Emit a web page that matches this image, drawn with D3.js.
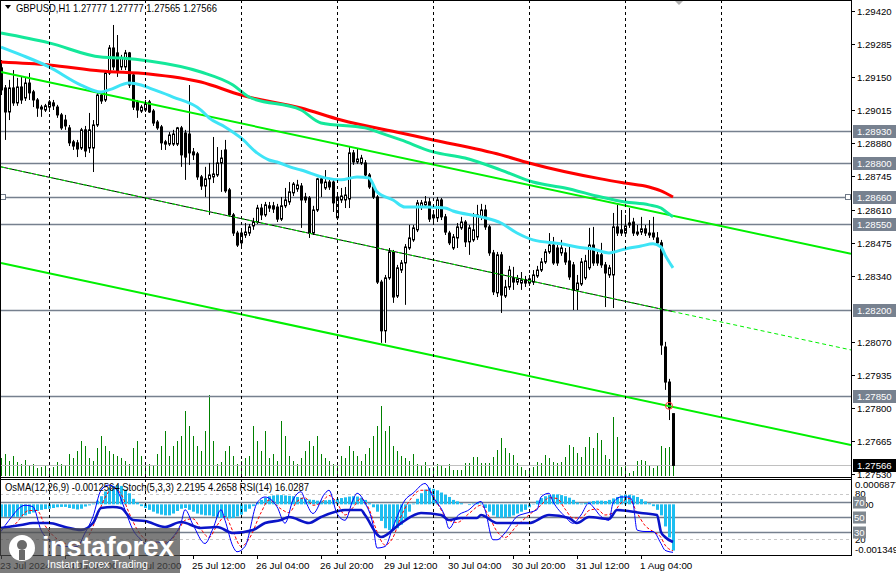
<!DOCTYPE html>
<html><head><meta charset="utf-8">
<script src="https://cdn.jsdelivr.net/npm/d3@7"></script>
<style>body{margin:0;background:#fff;overflow:hidden}svg{display:block}text{font-family:"Liberation Sans",Arial,sans-serif}</style>
</head><body><svg id="c" width="896" height="573"></svg>
<script>
// ---------- DATA ----------
const openP = [1.29188,1.29106,1.29008,1.29106,1.29045,1.29110,1.29065,1.29126,1.29090,1.29057,
1.29028,1.29016,1.29028,1.29045,1.29028,1.28996,1.28975,1.28943,1.28886,1.28882,
1.28861,1.28935,1.28861,1.28861,1.28955,1.29077,1.29057,1.29167,1.29269,1.29249,
1.29192,1.29192,1.29249,1.29159,1.29049,1.29012,1.29016,1.29049,1.29012,1.28967,
1.28947,1.28886,1.28877,1.28877,1.28877,1.28943,1.28922,1.28918,1.28845,1.28837,
1.28743,1.28706,1.28735,1.28743,1.28751,1.28800,1.28853,1.28690,1.28588,1.28514,
1.28474,1.28506,1.28514,1.28543,1.28559,1.28616,1.28588,1.28625,1.28625,1.28620,
1.28571,1.28625,1.28641,1.28678,1.28694,1.28706,1.28661,1.28657,1.28514,1.28608,
1.28735,1.28698,1.28722,1.28722,1.28576,1.28649,1.28649,1.28653,1.28841,1.28804,
1.28800,1.28800,1.28751,1.28702,1.28661,1.28314,1.28115,1.28331,1.28437,1.28257,
1.28363,1.28392,1.28453,1.28486,1.28527,1.28620,1.28629,1.28641,1.28576,1.28576,
1.28649,1.28580,1.28514,1.28453,1.28494,1.28535,1.28559,1.28478,1.28486,1.28498,
1.28580,1.28608,1.28539,1.28433,1.28270,1.28425,1.28257,1.28294,1.28331,1.28314,
1.28310,1.28323,1.28310,1.28314,1.28339,1.28363,1.28396,1.28437,1.28465,1.28453,
1.28433,1.28433,1.28400,1.28384,1.28282,1.28306,1.28331,1.28372,1.28465,1.28425,
1.28425,1.28384,1.28343,1.28343,1.28539,1.28527,1.28514,1.28547,1.28559,1.28510,
1.28518,1.28531,1.28514,1.28514,1.28494,1.28474,1.28049,1.27906,1.27777];
const highP = [1.29220,1.29118,1.29139,1.29179,1.29147,1.29151,1.29147,1.29167,1.29098,1.29065,
1.29037,1.29041,1.29057,1.29057,1.29037,1.29004,1.28996,1.28955,1.28894,1.28894,
1.28943,1.28951,1.29004,1.28975,1.29086,1.29090,1.29175,1.29281,1.29363,1.29322,
1.29241,1.29261,1.29253,1.29167,1.29057,1.29037,1.29057,1.29057,1.29020,1.28975,
1.28955,1.28894,1.28926,1.28935,1.28947,1.28951,1.28935,1.29118,1.28861,1.28845,
1.28751,1.28784,1.28800,1.28906,1.28865,1.28853,1.28894,1.28698,1.28596,1.28523,
1.28527,1.28555,1.28551,1.28576,1.28629,1.28633,1.28641,1.28641,1.28641,1.28633,
1.28661,1.28698,1.28722,1.28722,1.28731,1.28718,1.28678,1.28665,1.28625,1.28739,
1.28743,1.28771,1.28739,1.28731,1.28678,1.28698,1.28702,1.28865,1.28853,1.28857,
1.28833,1.28812,1.28759,1.28710,1.28669,1.28323,1.28343,1.28453,1.28445,1.28384,
1.28404,1.28469,1.28547,1.28547,1.28649,1.28649,1.28665,1.28657,1.28600,1.28661,
1.28657,1.28592,1.28523,1.28510,1.28555,1.28580,1.28567,1.28547,1.28596,1.28629,
1.28633,1.28629,1.28547,1.28445,1.28437,1.28437,1.28323,1.28380,1.28376,1.28343,
1.28355,1.28339,1.28343,1.28363,1.28380,1.28412,1.28449,1.28514,1.28498,1.28465,
1.28486,1.28453,1.28457,1.28396,1.28343,1.28412,1.28425,1.28535,1.28539,1.28437,
1.28474,1.28396,1.28384,1.28596,1.28629,1.28608,1.28588,1.28616,1.28576,1.28547,
1.28580,1.28547,1.28567,1.28580,1.28518,1.28486,1.28070,1.27919,1.27777];
const lowP = [1.29077,1.28894,1.28975,1.29033,1.29033,1.29041,1.29053,1.29057,1.29028,1.28988,
1.28988,1.29008,1.29008,1.29016,1.28984,1.28935,1.28935,1.28869,1.28853,1.28824,
1.28853,1.28824,1.28841,1.28763,1.28947,1.29041,1.29049,1.29159,1.29179,1.29151,
1.29179,1.29179,1.29106,1.29016,1.28984,1.29004,1.29008,1.29004,1.28951,1.28935,
1.28853,1.28853,1.28869,1.28869,1.28869,1.28784,1.28731,1.28792,1.28812,1.28731,
1.28690,1.28661,1.28588,1.28718,1.28743,1.28682,1.28678,1.28580,1.28502,1.28457,
1.28461,1.28494,1.28502,1.28527,1.28551,1.28567,1.28580,1.28600,1.28596,1.28559,
1.28563,1.28616,1.28629,1.28665,1.28682,1.28535,1.28637,1.28494,1.28506,1.28600,
1.28661,1.28690,1.28690,1.28600,1.28567,1.28637,1.28616,1.28616,1.28792,1.28796,
1.28792,1.28743,1.28694,1.28653,1.28306,1.28066,1.28066,1.28323,1.28229,1.28249,
1.28351,1.28221,1.28445,1.28478,1.28518,1.28608,1.28616,1.28559,1.28555,1.28559,
1.28567,1.28506,1.28465,1.28445,1.28453,1.28527,1.28457,1.28425,1.28478,1.28486,
1.28567,1.28527,1.28421,1.28261,1.28253,1.28188,1.28249,1.28282,1.28282,1.28302,
1.28282,1.28294,1.28298,1.28302,1.28331,1.28355,1.28388,1.28429,1.28384,1.28380,
1.28421,1.28384,1.28323,1.28200,1.28200,1.28298,1.28323,1.28363,1.28380,1.28380,
1.28372,1.28212,1.28331,1.28208,1.28502,1.28502,1.28502,1.28535,1.28502,1.28502,
1.28506,1.28502,1.28494,1.28486,1.28461,1.28017,1.27874,1.27751,1.27565];
const closeP = [1.29098,1.29008,1.29106,1.29045,1.29110,1.29057,1.29126,1.29086,1.29057,1.29024,
1.29020,1.29033,1.29049,1.29033,1.28996,1.28943,1.28951,1.28882,1.28869,1.28857,
1.28935,1.28849,1.28935,1.28955,1.29077,1.29053,1.29167,1.29269,1.29192,1.29171,
1.29228,1.29249,1.29118,1.29028,1.29016,1.29028,1.29045,1.29008,1.28963,1.28943,
1.28882,1.28877,1.28914,1.28918,1.28943,1.28833,1.28824,1.28841,1.28833,1.28743,
1.28706,1.28735,1.28751,1.28755,1.28800,1.28820,1.28686,1.28588,1.28514,1.28465,
1.28514,1.28518,1.28539,1.28559,1.28616,1.28588,1.28629,1.28616,1.28612,1.28571,
1.28625,1.28649,1.28682,1.28714,1.28710,1.28649,1.28649,1.28514,1.28608,1.28735,
1.28718,1.28722,1.28702,1.28637,1.28661,1.28665,1.28669,1.28841,1.28804,1.28816,
1.28820,1.28751,1.28702,1.28661,1.28314,1.28115,1.28331,1.28437,1.28253,1.28372,
1.28392,1.28457,1.28494,1.28535,1.28637,1.28637,1.28641,1.28571,1.28588,1.28649,
1.28580,1.28518,1.28474,1.28498,1.28539,1.28559,1.28478,1.28535,1.28527,1.28588,
1.28608,1.28539,1.28433,1.28274,1.28425,1.28261,1.28294,1.28363,1.28314,1.28327,
1.28323,1.28310,1.28327,1.28343,1.28363,1.28396,1.28437,1.28465,1.28392,1.28392,
1.28453,1.28396,1.28335,1.28282,1.28310,1.28396,1.28400,1.28465,1.28392,1.28392,
1.28384,1.28351,1.28372,1.28539,1.28514,1.28514,1.28543,1.28555,1.28514,1.28518,
1.28531,1.28514,1.28506,1.28498,1.28474,1.28057,1.27906,1.27800,1.27566];
const volumes = [1800,2200,1500,2000,1400,1200,1600,1000,1200,800,
900,1000,700,900,1400,1200,1000,2200,1800,2500,
3500,3000,1800,1500,2800,4000,3000,2500,2200,2000,
1800,1500,1200,2800,3500,2000,1400,1200,1000,2200,
3000,4500,2000,3000,3500,4000,6500,5000,4000,3000,
2500,4500,8100,3500,1200,1400,2500,3000,2000,1200,
1500,1800,2000,5000,3500,2500,4500,1800,2200,1500,
5500,4000,2000,1500,1200,1800,2500,3500,3000,4000,
2200,1800,1500,1200,1400,2000,1800,3000,2500,2000,
1500,2200,2800,4000,5000,7000,4500,5000,3000,2500,
2000,1800,1500,2200,1200,1000,1400,800,900,1200,
1000,800,1200,600,600,600,1300,1300,1900,1900,
1300,1300,1300,1900,2600,3800,2800,2300,2100,1300,
900,600,600,900,1400,1300,2100,1800,1400,1300,
1400,1900,3100,2900,2300,1900,2900,3900,2800,4300,
3600,2100,1700,5900,3900,900,1300,300,500,1500,
1600,1500,1000,800,1100,3000,2800,2900,2100];
const osma = [-0.00034,-0.00034,-0.00034,-0.00034,-0.00034,-0.00034,-0.00030,-0.00026,-0.00022,-0.00018,
-0.00015,-0.00013,-0.00012,-0.00010,-0.00008,-0.00007,-0.00007,-0.00010,-0.00012,-0.00014,
-0.00012,-0.00006,-0.00003,0.00002,0.00010,0.00022,0.00035,0.00045,0.00050,0.00052,
0.00050,0.00040,0.00030,0.00015,0.00005,-0.00005,-0.00010,-0.00015,-0.00020,-0.00025,
-0.00028,-0.00030,-0.00030,-0.00025,-0.00018,-0.00012,-0.00010,-0.00015,-0.00020,-0.00025,
-0.00028,-0.00030,-0.00030,-0.00033,-0.00035,-0.00037,-0.00038,-0.00038,-0.00037,-0.00033,
-0.00028,-0.00020,-0.00012,-0.00005,0.00005,0.00012,0.00018,0.00022,0.00024,0.00025,
0.00025,0.00024,0.00023,0.00022,0.00020,0.00018,0.00015,0.00013,0.00012,0.00010,
0.00010,0.00011,0.00012,0.00013,0.00015,0.00017,0.00019,0.00021,0.00022,0.00021,
0.00018,0.00012,0.00003,-0.00008,-0.00020,-0.00045,-0.00065,-0.00070,-0.00070,-0.00065,
-0.00055,-0.00040,-0.00020,0.00002,0.00015,0.00030,0.00040,0.00045,0.00042,0.00038,
0.00032,0.00026,0.00020,0.00012,0.00008,0.00003,0.00000,-0.00002,0.00002,0.00005,
0.00002,-0.00010,-0.00020,-0.00030,-0.00035,-0.00037,-0.00036,-0.00034,-0.00030,-0.00025,
-0.00020,-0.00015,-0.00008,0.00001,0.00010,0.00017,0.00022,0.00025,0.00027,0.00027,
0.00025,0.00022,0.00018,0.00012,0.00005,0.00002,0.00004,0.00007,0.00009,0.00010,
0.00010,0.00009,0.00012,0.00016,0.00020,0.00024,0.00026,0.00026,0.00024,0.00020,
0.00014,0.00008,0.00003,-0.00005,-0.00015,-0.00030,-0.00060,-0.00090,-0.0012564];
// moving averages read at sample bars: [bar, price]
const maRed = [[0,1.29212],[12,1.29200],[25,1.29175],[37,1.29163],[50,1.29130],[60,1.29077],[75,1.29024],[85,1.28975],[100,1.28922],[108,1.28894],[125,1.28833],[132,1.28800],[150,1.28735],[156,1.28718],[162,1.28702],[165,1.28686],[168,1.28661]];
const maMint = [[0,1.29330],[12,1.29290],[25,1.29232],[30,1.29228],[37,1.29216],[50,1.29171],[58,1.29118],[62,1.29069],[75,1.29016],[80,1.28963],[91,1.28943],[95,1.28922],[100,1.28894],[108,1.28845],[116,1.28820],[125,1.28771],[133,1.28722],[141,1.28698],[150,1.28661],[156,1.28641],[162,1.28629],[165,1.28616],[166,1.28604],[168,1.28580]];
const maCyan = [[0,1.29273],[5,1.29241],[12,1.29192],[20,1.29118],[25,1.29090],[27,1.29098],[32,1.29126],[35,1.29118],[37,1.29106],[43,1.29069],[50,1.29016],[52,1.28984],[56,1.28947],[60,1.28902],[64,1.28841],[67,1.28812],[69,1.28804],[73,1.28780],[75,1.28771],[81,1.28739],[85,1.28731],[89,1.28743],[92,1.28739],[94,1.28682],[98,1.28649],[101,1.28620],[106,1.28620],[111,1.28616],[113,1.28604],[120,1.28580],[125,1.28555],[129,1.28514],[133,1.28486],[140,1.28470],[144,1.28457],[148,1.28449],[152,1.28433],[156,1.28449],[160,1.28461],[163,1.28470],[165,1.28457],[166,1.28425],[168,1.28372]];
// channel trend lines: [[bar, price],[bar, price]]
const chanUpper = [[0,1.29171],[212.5,1.28429]];
const chanMid = [[0,1.28784],[212.5,1.28037]];
const chanLower = [[0,1.28392],[212.5,1.27649]];
const levels = [1.28930,1.28800,1.28660,1.28550,1.28200,1.27850];
const lastPrice = 1.27566;
const priceTicks = [1.29420,1.29285,1.29150,1.29015,1.28880,1.28745,1.28610,1.28475,1.28340,1.28070,1.27935,1.27800,1.27665,1.27530];
const timeLabels = [[0,"23 Jul 2024"],[16,"24 Jul 04:00"],[32,"24 Jul 20:00"],[48,"25 Jul 12:00"],[64,"26 Jul 04:00"],[80,"26 Jul 20:00"],[96,"29 Jul 12:00"],[112,"30 Jul 04:00"],[128,"30 Jul 20:00"],[144,"31 Jul 12:00"],[160,"1 Aug 04:00"]];
const gridBars = [12,36,60,84,108,132,156,180];
const rsi = [[0,34.7],[5,38.7],[8,41.3],[12,41.3],[16,36],[20,32],[23,41.3],[25,61.3],[28,62.7],[30,61.3],[33,45.3],[36,44],[41,36],[45,42.7],[50,34.7],[54,36],[58,28],[63,32],[66,41.3],[70,45.3],[72,49.3],[77,41.3],[80,49.3],[86,58.7],[90,58.7],[91,52],[95,22.7],[100,41.3],[105,54.7],[110,52],[112,45.3],[115,48],[119,48],[120,52],[124,41.3],[132,41.3],[137,52],[142,48],[144,41.3],[147,49.3],[152,46.7],[154,58.7],[160,54.7],[164,52],[165,29.3],[166,22.7],[168,16.03]];
const stochMain = [[0,30],[2,45],[6,65],[8,63],[10,32],[12,19],[16,10],[19,10],[21,28],[23,50],[25,85],[27,92],[29,85],[31,59],[33,32],[35,19],[36,14],[39,16],[41,14],[43,23],[45,41],[46,59],[48,39],[51,14],[53,34],[55,59],[56,45],[58,10],[59,3],[61,10],[64,68],[66,76],[69,63],[71,41],[73,72],[75,83],[76,72],[78,54],[81,81],[82,85],[84,54],[86,45],[88,72],[89,81],[91,68],[93,39],[94,8],[96,10],[98,36],[101,72],[103,81],[106,94],[108,76],[111,50],[112,34],[114,50],[117,59],[119,68],[120,70],[121,59],[123,19],[124,19],[126,28],[129,50],[131,54],[134,59],[135,76],[137,81],[138,70],[141,50],[143,41],[145,52],[147,68],[148,63],[150,50],[152,45],[153,68],[155,76],[157,76],[158,68],[159,32],[161,30],[163,30],[165,14],[166,5],[168,2.22]];
const stochSignal = [[0,35],[3,38],[7,58],[9,58],[11,38],[14,20],[17,13],[20,14],[22,25],[24,50],[26,75],[28,88],[30,80],[32,55],[34,33],[36,20],[39,15],[42,17],[44,28],[46,45],[48,47],[50,33],[52,22],[54,38],[56,50],[58,30],[60,10],[62,20],[65,55],[67,72],[70,60],[72,55],[74,70],[76,75],[78,65],[80,68],[82,78],[84,68],[86,52],[88,62],[90,74],[92,60],[94,30],[96,12],[98,22],[100,50],[102,70],[105,85],[107,85],[109,68],[112,45],[114,42],[117,54],[120,65],[122,50],[124,30],[126,22],[129,38],[132,52],[135,65],[137,75],[139,74],[141,60],[143,48],[145,48],[147,58],[149,60],[151,52],[153,55],[155,68],[157,74],[159,55],[161,38],[163,30],[165,22],[166,12],[168,4.27]];

// ---------- SCALES ----------
const svg = d3.select("#c");
const R = 851;
const x = d3.scaleLinear().domain([0,168]).range([1,673]);
const y = d3.scaleLinear().domain([1.27530,1.29420]).range([474.2,11]);
const yVol = d3.scaleLinear().domain([0,8000]).range([476,396]);
const yInd = d3.scaleLinear().domain([0,100]).range([554,479]);
const yOs = d3.scaleLinear().domain([-0.001349,0.0006877]).range([554,479]);
const px = i => Math.round(x(i)) + 0.5;

svg.append("rect").attr("width",896).attr("height",573).attr("fill","#fff");
const defs = svg.append("defs");
defs.append("clipPath").attr("id","cm").append("rect").attr("x",0).attr("y",0).attr("width",R).attr("height",477);
defs.append("clipPath").attr("id","cs").append("rect").attr("x",0).attr("y",479).attr("width",R).attr("height",76);

const main = svg.append("g").attr("clip-path","url(#cm)");
const sub = svg.append("g").attr("clip-path","url(#cs)");

// grid
gridBars.forEach(b=>{
  [[0,477],[479,555]].forEach(([a,bb])=>{
    svg.append("line").attr("x1",px(b)).attr("x2",px(b)).attr("y1",a).attr("y2",bb)
      .attr("stroke","#000").attr("stroke-width",1).attr("stroke-dasharray","3,3");
  });
});

// volumes
main.selectAll("line.vol").data(volumes).join("line").attr("class","vol")
  .attr("x1",(d,i)=>px(i)).attr("x2",(d,i)=>px(i)).attr("y1",476).attr("y2",d=>yVol(d))
  .attr("stroke","#008000").attr("stroke-width",1);

// horizontal levels
levels.forEach(l=>{
  main.append("line").attr("x1",0).attr("x2",R).attr("y1",Math.round(y(l))+0.5).attr("y2",Math.round(y(l))+0.5)
    .attr("stroke","#76808e").attr("stroke-width",1.3);
});
main.append("line").attr("x1",0).attr("x2",R).attr("y1",Math.round(y(lastPrice))+0.5).attr("y2",Math.round(y(lastPrice))+0.5)
  .attr("stroke","#c0c0c0").attr("stroke-width",1);

// candles
const idx = d3.range(openP.length);
main.selectAll("line.wick").data(idx).join("line")
  .attr("x1",i=>px(i)).attr("x2",i=>px(i)).attr("y1",i=>y(highP[i])).attr("y2",i=>y(lowP[i]))
  .attr("stroke","#000").attr("stroke-width",1);
main.selectAll("rect.body").data(idx).join("rect")
  .attr("x",i=>Math.round(x(i))-0.5).attr("width",2)
  .attr("y",i=>y(Math.max(openP[i],closeP[i])))
  .attr("height",i=>Math.max(1,Math.abs(y(openP[i])-y(closeP[i]))))
  .attr("fill",i=>closeP[i]>=openP[i]?"#fff":"#000").attr("stroke","#000").attr("stroke-width",1);

// channels
const tl = d3.line().x(d=>x(d[0])).y(d=>y(d[1]));
main.append("path").attr("d",tl(chanUpper)).attr("stroke","#00f000").attr("stroke-width",2).attr("fill","none");
main.append("path").attr("d",tl(chanLower)).attr("stroke","#00f000").attr("stroke-width",2).attr("fill","none");
const midEnd = [168, chanMid[0][1]+(chanMid[1][1]-chanMid[0][1])*168/212.5];
main.append("path").attr("d",tl([chanMid[0],midEnd])).attr("stroke","#000").attr("stroke-width",1).attr("fill","none");
main.append("path").attr("d",tl(chanMid)).attr("stroke","#00f000").attr("stroke-width",1).attr("stroke-dasharray","4,3").attr("fill","none");

// MAs
const ml = d3.line().x(d=>x(d[0])).y(d=>y(d[1])).curve(d3.curveMonotoneX);
main.append("path").attr("d",ml(maRed)).attr("stroke","#ff0000").attr("stroke-width",3).attr("fill","none");
main.append("path").attr("d",ml(maMint)).attr("stroke","#14e89a").attr("stroke-width",3).attr("fill","none");
main.append("path").attr("d",ml(maCyan)).attr("stroke","#3ee4f6").attr("stroke-width",3).attr("fill","none");

// markers
main.append("circle").attr("cx",x(167)).attr("cy",y(1.27809)).attr("r",3.5).attr("fill","none").attr("stroke","#ff3030").attr("stroke-width",1);
[3,848].forEach(cx=>{
  svg.append("rect").attr("x",cx-2.5).attr("y",Math.round(y(1.28660))-2.5).attr("width",5).attr("height",5)
    .attr("fill","#fff").attr("stroke","#707a88").attr("stroke-width",1);
});
svg.append("path").attr("d","M674,0 L684,0 L679,5 Z").attr("fill","#b0b0b0");

// frames
svg.append("line").attr("x1",0).attr("x2",R).attr("y1",0.5).attr("y2",0.5).attr("stroke","#000");
svg.append("line").attr("x1",0.5).attr("x2",0.5).attr("y1",0).attr("y2",555).attr("stroke","#000");
svg.append("line").attr("x1",R+0.5).attr("x2",R+0.5).attr("y1",0).attr("y2",556).attr("stroke","#000");
svg.append("line").attr("x1",0).attr("x2",R).attr("y1",477.5).attr("y2",477.5).attr("stroke","#000");
svg.append("line").attr("x1",0).attr("x2",R).attr("y1",479.5).attr("y2",479.5).attr("stroke","#000");
svg.append("line").attr("x1",0).attr("x2",R).attr("y1",555.5).attr("y2",555.5).attr("stroke","#000");

// price axis
priceTicks.forEach(p=>{
  const yy = Math.round(y(p))+0.5;
  svg.append("line").attr("x1",R).attr("x2",R+4).attr("y1",yy).attr("y2",yy).attr("stroke","#000");
  svg.append("text").attr("x",857).attr("y",yy+3.5).attr("font-size",9.6).attr("fill","#000").text(p.toFixed(5));
});
levels.forEach(l=>{
  const yy = Math.round(y(l))+0.5;
  svg.append("rect").attr("x",853).attr("y",yy-6.5).attr("width",43).attr("height",13).attr("fill","#77818f");
  svg.append("text").attr("x",857).attr("y",yy+3.5).attr("font-size",9.6).attr("fill","#fff").text(l.toFixed(5));
});
{
  const yy = Math.round(y(lastPrice))+0.5;
  svg.append("rect").attr("x",853).attr("y",yy-6.5).attr("width",43).attr("height",13).attr("fill","#000");
  svg.append("text").attr("x",857).attr("y",yy+3.5).attr("font-size",9.6).attr("fill","#fff").text(lastPrice.toFixed(5));
}

// ---- sub window ----
[[80,"#c8c8c8","3,3"],[20,"#c8c8c8","3,3"]].forEach(([v,c,da])=>{
  sub.append("line").attr("x1",0).attr("x2",R).attr("y1",Math.round(yInd(v))+0.5).attr("y2",Math.round(yInd(v))+0.5)
    .attr("stroke",c).attr("stroke-dasharray",da);
});
[70,50,30].forEach(v=>{
  sub.append("line").attr("x1",0).attr("x2",R).attr("y1",Math.round(yInd(v))+0.5).attr("y2",Math.round(yInd(v))+0.5)
    .attr("stroke","#76808e").attr("stroke-width",1.3);
});
sub.selectAll("rect.os").data(osma).join("rect")
  .attr("x",(d,i)=>Math.round(x(i))-1).attr("width",3)
  .attr("y",d=>Math.min(yOs(d),yOs(0))).attr("height",d=>Math.abs(yOs(d)-yOs(0)))
  .attr("fill","#1ebef0");
const il = d3.line().x(d=>x(d[0])).y(d=>yInd(d[1])).curve(d3.curveMonotoneX);
sub.append("path").attr("d",il(stochSignal)).attr("stroke","#ff0000").attr("stroke-width",1).attr("stroke-dasharray","3,2").attr("fill","none");
sub.append("path").attr("d",il(stochMain)).attr("stroke","#0000ff").attr("stroke-width",1).attr("fill","none");
sub.append("path").attr("d",il(rsi)).attr("stroke","#0a14c8").attr("stroke-width",2.6).attr("fill","none");

svg.append("text").attr("x",5).attr("y",491).attr("font-size",10).attr("fill","#000")
  .attr("textLength",304).attr("lengthAdjust","spacingAndGlyphs")
  .text("OsMA(12,26,9) -0.0012564  Stoch(5,3,3) 2.2195 4.2658  RSI(14) 16.0287");

// sub axis labels
svg.append("text").attr("x",855).attr("y",488).attr("font-size",9.6).text("0.0006877");
svg.append("text").attr("x",855).attr("y",497).attr("font-size",9.6).text("80");
svg.append("text").attr("x",855).attr("y",508).attr("font-size",9.6).text("0.00");
svg.append("text").attr("x",855).attr("y",543).attr("font-size",9.6).text("20");
svg.append("text").attr("x",855).attr("y",553).attr("font-size",9.6).text("-0.001349");
[70,50,30].forEach(v=>{
  const yy = Math.round(yInd(v))+0.5;
  svg.append("rect").attr("x",853).attr("y",yy-6).attr("width",13).attr("height",12).attr("fill","#808890");
  svg.append("text").attr("x",854).attr("y",yy+3.5).attr("font-size",9.6).attr("fill","#fff").text(v);
});

// time axis
timeLabels.forEach(([b,t])=>{
  svg.append("line").attr("x1",px(b)).attr("x2",px(b)).attr("y1",555).attr("y2",559).attr("stroke","#000");
  svg.append("text").attr("x",x(b)-1).attr("y",569).attr("font-size",9.8).attr("fill","#000").text(t);
});

// title
svg.append("path").attr("d","M5,5 L11,5 L8,9 Z").attr("fill","#000");
svg.append("text").attr("x",16).attr("y",12).attr("font-size",10.5).attr("fill","#000")
  .attr("textLength",201).attr("lengthAdjust","spacingAndGlyphs")
  .text("GBPUSD,H1  1.27777 1.27777 1.27565 1.27566");

// watermark
const wm = svg.append("g");
wm.append("rect").attr("x",0).attr("y",528).attr("width",180).attr("height",45).attr("fill","#4a4a4a").attr("opacity",0.72);
wm.append("circle").attr("cx",22).attr("cy",548).attr("r",13).attr("fill","#fff");
wm.append("circle").attr("cx",22).attr("cy",545).attr("r",5).attr("fill","#6a6a6a");
wm.append("rect").attr("x",19).attr("y",550).attr("width",6).attr("height",10).attr("fill","#6a6a6a");
wm.append("text").attr("x",42).attr("y",556).attr("font-size",27).attr("fill","#fff")
  .attr("font-family","'Open Sans',sans-serif").attr("font-weight",600)
  .attr("textLength",132).attr("lengthAdjust","spacingAndGlyphs").text("instaforex");
wm.append("text").attr("x",47).attr("y",568).attr("font-size",10.5).attr("fill","#fff")
  .attr("textLength",101).attr("lengthAdjust","spacingAndGlyphs").text("Instant Forex Trading");
</script></body></html>
